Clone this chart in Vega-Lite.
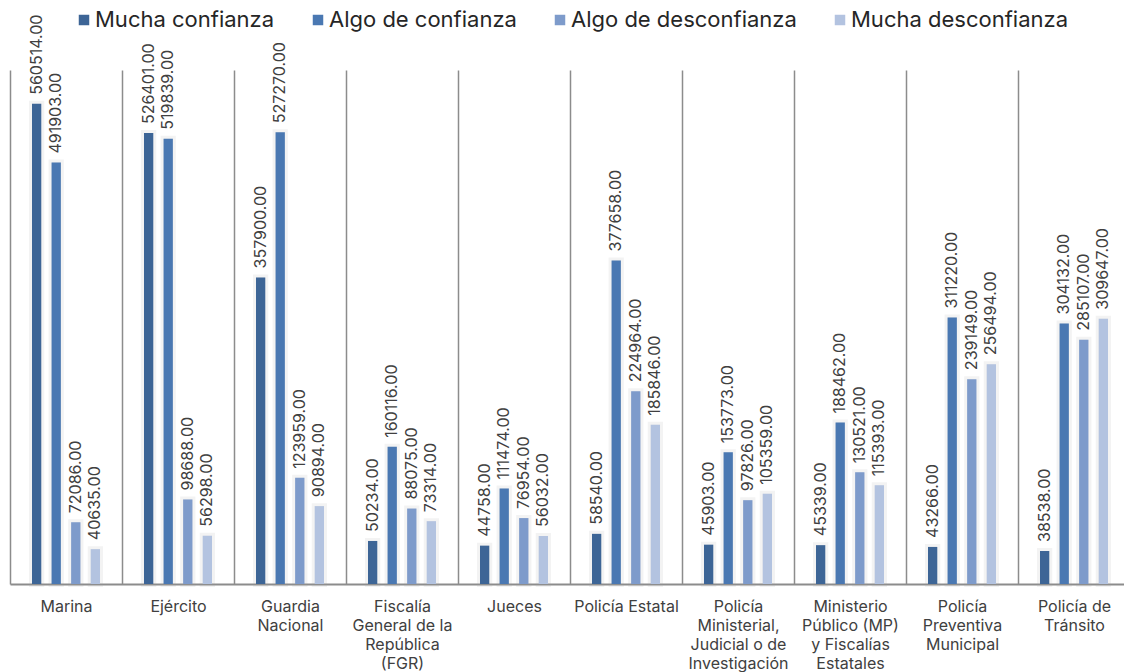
{
  "$schema": "https://vega.github.io/schema/vega-lite/v6.json",
  "width": 1120,
  "height": 514,
  "autosize": {"type": "none"},
  "padding": {"left": 10, "top": 70, "right": 0, "bottom": 88},
  "background": "white",
  "config": {"view": {"stroke": null}, "font": "Inter"},
  "data": {
    "values": [
      {"inst": "Marina", "nivel": "Mucha confianza", "valor": 560514},
      {"inst": "Marina", "nivel": "Algo de confianza", "valor": 491903},
      {"inst": "Marina", "nivel": "Algo de desconfianza", "valor": 72086},
      {"inst": "Marina", "nivel": "Mucha desconfianza", "valor": 40635},
      {"inst": "Ejército", "nivel": "Mucha confianza", "valor": 526401},
      {"inst": "Ejército", "nivel": "Algo de confianza", "valor": 519839},
      {"inst": "Ejército", "nivel": "Algo de desconfianza", "valor": 98688},
      {"inst": "Ejército", "nivel": "Mucha desconfianza", "valor": 56298},
      {"inst": "Guardia|Nacional", "nivel": "Mucha confianza", "valor": 357900},
      {"inst": "Guardia|Nacional", "nivel": "Algo de confianza", "valor": 527270},
      {"inst": "Guardia|Nacional", "nivel": "Algo de desconfianza", "valor": 123959},
      {"inst": "Guardia|Nacional", "nivel": "Mucha desconfianza", "valor": 90894},
      {"inst": "Fiscalía|General de la|República|(FGR)", "nivel": "Mucha confianza", "valor": 50234},
      {"inst": "Fiscalía|General de la|República|(FGR)", "nivel": "Algo de confianza", "valor": 160116},
      {"inst": "Fiscalía|General de la|República|(FGR)", "nivel": "Algo de desconfianza", "valor": 88075},
      {"inst": "Fiscalía|General de la|República|(FGR)", "nivel": "Mucha desconfianza", "valor": 73314},
      {"inst": "Jueces", "nivel": "Mucha confianza", "valor": 44758},
      {"inst": "Jueces", "nivel": "Algo de confianza", "valor": 111474},
      {"inst": "Jueces", "nivel": "Algo de desconfianza", "valor": 76954},
      {"inst": "Jueces", "nivel": "Mucha desconfianza", "valor": 56032},
      {"inst": "Policía Estatal", "nivel": "Mucha confianza", "valor": 58540},
      {"inst": "Policía Estatal", "nivel": "Algo de confianza", "valor": 377658},
      {"inst": "Policía Estatal", "nivel": "Algo de desconfianza", "valor": 224964},
      {"inst": "Policía Estatal", "nivel": "Mucha desconfianza", "valor": 185846},
      {"inst": "Policía|Ministerial,|Judicial o de|Investigación", "nivel": "Mucha confianza", "valor": 45903},
      {"inst": "Policía|Ministerial,|Judicial o de|Investigación", "nivel": "Algo de confianza", "valor": 153773},
      {"inst": "Policía|Ministerial,|Judicial o de|Investigación", "nivel": "Algo de desconfianza", "valor": 97826},
      {"inst": "Policía|Ministerial,|Judicial o de|Investigación", "nivel": "Mucha desconfianza", "valor": 105359},
      {"inst": "Ministerio|Público (MP)|y Fiscalías|Estatales", "nivel": "Mucha confianza", "valor": 45339},
      {"inst": "Ministerio|Público (MP)|y Fiscalías|Estatales", "nivel": "Algo de confianza", "valor": 188462},
      {"inst": "Ministerio|Público (MP)|y Fiscalías|Estatales", "nivel": "Algo de desconfianza", "valor": 130521},
      {"inst": "Ministerio|Público (MP)|y Fiscalías|Estatales", "nivel": "Mucha desconfianza", "valor": 115393},
      {"inst": "Policía|Preventiva|Municipal", "nivel": "Mucha confianza", "valor": 43266},
      {"inst": "Policía|Preventiva|Municipal", "nivel": "Algo de confianza", "valor": 311220},
      {"inst": "Policía|Preventiva|Municipal", "nivel": "Algo de desconfianza", "valor": 239149},
      {"inst": "Policía|Preventiva|Municipal", "nivel": "Mucha desconfianza", "valor": 256494},
      {"inst": "Policía de|Tránsito", "nivel": "Mucha confianza", "valor": 38538},
      {"inst": "Policía de|Tránsito", "nivel": "Algo de confianza", "valor": 304132},
      {"inst": "Policía de|Tránsito", "nivel": "Algo de desconfianza", "valor": 285107},
      {"inst": "Policía de|Tránsito", "nivel": "Mucha desconfianza", "valor": 309647}
    ]
  },
  "encoding": {
    "x": {
      "field": "inst",
      "type": "nominal",
      "sort": null,
      "scale": {"paddingInner": 0, "paddingOuter": 0},
      "axis": {
        "title": null,
        "labelAngle": 0,
        "labelExpr": "isValid(datum.value) ? split(datum.value, '|') : ''",
        "labelFontSize": 16,
        "labelColor": "#404040",
        "labelLineHeight": 19,
        "labelPadding": 14,
        "labelBaseline": "top",
        "labelLimit": 0,
        "labelOverlap": false,
        "labelBound": false,
        "ticks": false,
        "tickBand": "extent",
        "grid": true,
        "gridColor": "#8c8c8c",
        "gridWidth": 1.5,
        "domainColor": "#8c8c8c",
        "domainWidth": 2
      }
    },
    "xOffset": {
      "field": "nivel",
      "type": "nominal",
      "sort": ["Mucha confianza", "Algo de confianza", "Algo de desconfianza", "Mucha desconfianza"],
      "scale": {"range": [22, 90], "paddingInner": 0.526, "paddingOuter": 0}
    },
    "y": {
      "field": "valor",
      "type": "quantitative",
      "scale": {"domain": [0, 600000]},
      "axis": null
    }
  },
  "layer": [
    {
      "mark": {"type": "bar", "fill": "#9a9a9a", "fillOpacity": 0.12, "stroke": "#9a9a9a", "strokeOpacity": 0.12, "strokeWidth": 6}
    },
    {
      "mark": {"type": "bar"},
      "encoding": {
        "color": {
          "field": "nivel",
          "type": "nominal",
          "sort": ["Mucha confianza", "Algo de confianza", "Algo de desconfianza", "Mucha desconfianza"],
          "scale": {
            "domain": ["Mucha confianza", "Algo de confianza", "Algo de desconfianza", "Mucha desconfianza"],
            "range": ["#3d6596", "#4a78b2", "#7e9bcb", "#b3c3e0"]
          },
          "legend": {
            "title": null,
            "orient": "none",
            "direction": "horizontal",
            "legendX": 63,
            "legendY": -61,
            "symbolType": "square",
            "symbolSize": 110,
            "symbolStrokeWidth": 0,
            "labelFontSize": 22,
            "labelColor": "#262626",
            "labelOffset": 0,
            "labelLimit": 0,
            "columnPadding": 32
          }
        }
      }
    },
    {
      "mark": {"type": "text", "angle": 270, "align": "left", "baseline": "middle", "dx": 9, "fontSize": 16, "color": "#404040"},
      "encoding": {
        "text": {"field": "valor", "type": "quantitative", "format": ".2f"}
      }
    }
  ]
}
